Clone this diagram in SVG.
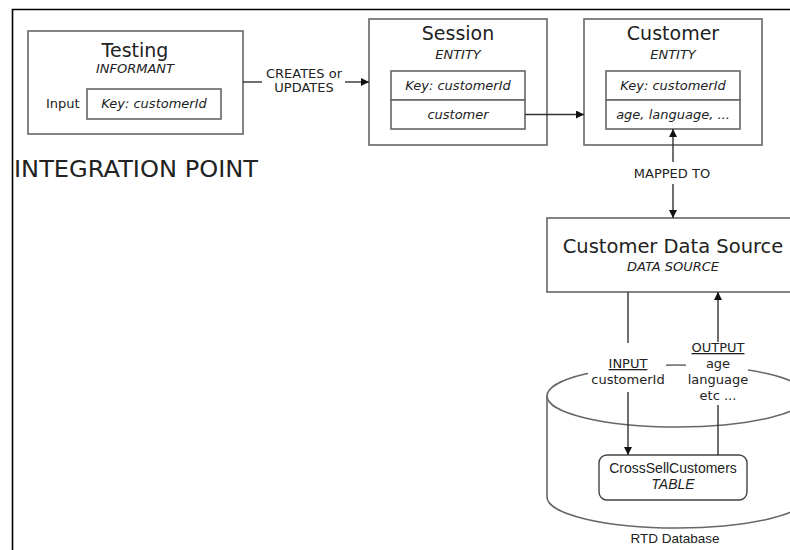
<svg xmlns="http://www.w3.org/2000/svg" width="790" height="550" viewBox="0 0 790 550">
<defs>
<marker id="arr" viewBox="0 0 10 10" refX="10" refY="5" markerWidth="8" markerHeight="8" markerUnits="userSpaceOnUse" orient="auto">
<path d="M0,0 L10,5 L0,10 z" fill="#111"/>
</marker>
<style>
.box{fill:#fff;stroke:#666;stroke-width:1.6}
.frame{fill:none;stroke:#000;stroke-width:1.6}
.conn{fill:none;stroke:#333;stroke-width:1.4}
.t{font-family:"DejaVu Sans",Verdana,sans-serif;fill:#222}
.title{font-size:19px}
.sub{font-size:13px;font-style:italic}
.lbl{font-size:13px}
.ar{font-family:"Liberation Sans",Arial,sans-serif;fill:#222}
.bg{fill:#fff;stroke:none}
</style>
</defs>
<rect width="790" height="550" fill="#fff"/>
<path class="frame" d="M12.5,550 V9.5 H790"/>
<text class="t" x="14" y="177" font-size="22.5" textLength="244" lengthAdjust="spacingAndGlyphs">INTEGRATION POINT</text>

<g id="testing">
<rect class="box" x="28" y="31" width="215" height="103"/>
<text class="t title" x="135" y="57" text-anchor="middle">Testing</text>
<text class="t sub" x="135" y="72.5" text-anchor="middle">INFORMANT</text>
<text class="t lbl" x="46" y="108">Input</text>
<rect class="box" x="87" y="89" width="134" height="30"/>
<text class="t sub" x="154" y="108" text-anchor="middle">Key: customerId</text>
</g>

<g id="session">
<rect class="box" x="369" y="19" width="178" height="126"/>
<text class="t title" x="458" y="40" text-anchor="middle">Session</text>
<text class="t sub" x="458" y="58.5" text-anchor="middle">ENTITY</text>
<rect class="box" x="391" y="71" width="134" height="29"/>
<rect class="box" x="391" y="100" width="134" height="29"/>
<text class="t sub" x="458" y="89.5" text-anchor="middle">Key: customerId</text>
<text class="t sub" x="458" y="118.5" text-anchor="middle">customer</text>
</g>

<g id="customer">
<rect class="box" x="584" y="19" width="178" height="126"/>
<text class="t title" x="673" y="40" text-anchor="middle">Customer</text>
<text class="t sub" x="673" y="58.5" text-anchor="middle">ENTITY</text>
<rect class="box" x="606" y="71" width="134" height="29"/>
<rect class="box" x="606" y="100" width="134" height="29"/>
<text class="t sub" x="673" y="89.5" text-anchor="middle">Key: customerId</text>
<text class="t sub" x="673" y="118.5" text-anchor="middle">age, language, ...</text>
</g>

<g id="datasource">
<rect class="box" x="547" y="218" width="255" height="74"/>
<text class="t" x="673" y="253" font-size="19.5" text-anchor="middle">Customer Data Source</text>
<text class="t sub" x="673" y="271" text-anchor="middle">DATA SOURCE</text>
</g>

<g id="rtd-database">
<path class="box" d="M547,396 V497 A130,31 0 0 0 807,497 V396"/>
<ellipse class="box" cx="677" cy="396" rx="130" ry="31"/>
<text class="ar" x="675" y="543" font-size="13.5" text-anchor="middle">RTD Database</text>
</g>

<g id="table">
<rect x="599" y="455" width="148" height="45" rx="8" fill="#fff" stroke="#444" stroke-width="1.4"/>
<text class="ar" x="673" y="473" font-size="14" text-anchor="middle">CrossSellCustomers</text>
<text class="ar" x="673" y="489" font-size="14" font-style="italic" text-anchor="middle">TABLE</text>
</g>

<g id="connectors">
<path class="conn" d="M243,82 H262"/>
<path class="conn" d="M345,82 H369" marker-end="url(#arr)"/>
<text class="t lbl" x="304" y="78" text-anchor="middle">CREATES or</text>
<text class="t lbl" x="304" y="92" text-anchor="middle">UPDATES</text>

<path class="conn" d="M525,114.5 H584" marker-end="url(#arr)"/>

<path class="conn" d="M673,162 V129" marker-end="url(#arr)"/>
<path class="conn" d="M673,184 V218" marker-end="url(#arr)"/>
<text class="t lbl" x="672" y="178" text-anchor="middle">MAPPED TO</text>

<rect class="bg" x="588" y="343" width="78" height="48"/>
<rect class="bg" x="686" y="340" width="62" height="64"/>
<path class="conn" d="M628,292 V343"/>
<path class="conn" d="M628,392 V455" marker-end="url(#arr)"/>
<path class="conn" d="M718,455 V405"/>
<path class="conn" d="M718,342 V292" marker-end="url(#arr)"/>

<text class="t lbl" x="628" y="368" text-anchor="middle" text-decoration="underline">INPUT</text>
<text class="t lbl" x="628" y="384" text-anchor="middle">customerId</text>
<text class="t lbl" x="718" y="352" text-anchor="middle" text-decoration="underline">OUTPUT</text>
<text class="t lbl" x="718" y="368" text-anchor="middle">age</text>
<text class="t lbl" x="718" y="384" text-anchor="middle">language</text>
<text class="t lbl" x="718" y="400" text-anchor="middle">etc ...</text>
</g>
</svg>
